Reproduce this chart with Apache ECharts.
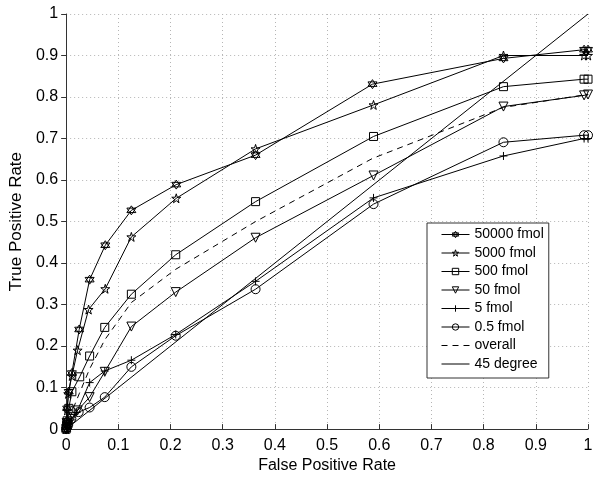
<!DOCTYPE html>
<html>
<head>
<meta charset="utf-8">
<script src="https://cdn.jsdelivr.net/npm/echarts@6/dist/echarts.min.js"></script>
<style>
html,body{margin:0;padding:0;background:#fff;}
#chart{width:600px;height:479px;}
</style>
</head>
<body>
<div id="chart"></div>
<script>
// ---- data ----
const seriesNames = ['50000 fmol', '5000 fmol', '500 fmol', '50 fmol', '5 fmol', '0.5 fmol', 'overall', '45 degree'];

const fpr50000 = [0, 0.001, 0.002, 0.005, 0.011, 0.025, 0.045, 0.075, 0.125, 0.211, 0.363, 0.587, 0.838, 0.9925, 1];
const tpr50000 = [0, 0.02, 0.05, 0.09, 0.135, 0.24, 0.36, 0.443, 0.527, 0.589, 0.66, 0.831, 0.893, 0.914, 0.914];

const fpr5000 = [0, 0.001, 0.002, 0.004, 0.011, 0.022, 0.043, 0.075, 0.125, 0.211, 0.363, 0.589, 0.838, 0.9925, 1];
const tpr5000 = [0, 0.02, 0.045, 0.085, 0.128, 0.19, 0.288, 0.338, 0.463, 0.556, 0.675, 0.781, 0.90, 0.90, 0.90];

const fpr500 = [0, 0.001, 0.002, 0.005, 0.011, 0.026, 0.045, 0.074, 0.125, 0.21, 0.363, 0.589, 0.838, 0.9925, 1];
const tpr500 = [0, 0.01, 0.02, 0.05, 0.09, 0.126, 0.176, 0.245, 0.325, 0.42, 0.548, 0.705, 0.825, 0.843, 0.843];

const fpr50 = [0, 0.002, 0.004, 0.01, 0.022, 0.045, 0.074, 0.125, 0.21, 0.363, 0.589, 0.838, 0.9925, 1];
const tpr50 = [0, 0.005, 0.01, 0.025, 0.045, 0.077, 0.138, 0.247, 0.33, 0.461, 0.611, 0.777, 0.804, 0.806];

const fpr5 = [0, 0.002, 0.005, 0.01, 0.02, 0.045, 0.074, 0.125, 0.21, 0.363, 0.589, 0.838, 0.9925, 1];
const tpr5 = [0, 0.005, 0.012, 0.022, 0.04, 0.112, 0.14, 0.166, 0.228, 0.356, 0.557, 0.658, 0.70, 0.70];

const fpr05 = [0, 0.002, 0.004, 0.01, 0.024, 0.045, 0.074, 0.125, 0.21, 0.363, 0.589, 0.838, 0.9925, 1];
const tpr05 = [0, 0.004, 0.01, 0.025, 0.041, 0.052, 0.077, 0.15, 0.225, 0.337, 0.542, 0.691, 0.708, 0.708];

const fprOverall = [0, 0.005, 0.012, 0.025, 0.045, 0.074, 0.125, 0.21, 0.363, 0.587, 0.838, 0.9925, 1];
const tprOverall = [0, 0.02, 0.045, 0.085, 0.145, 0.215, 0.305, 0.385, 0.5, 0.652, 0.775, 0.805, 0.805];

const fprDiag = [0, 1];
const tprDiag = [0, 1];

const xTicks = [0, 0.1, 0.2, 0.3, 0.4, 0.5, 0.6, 0.7, 0.8, 0.9, 1];
const yTicks = [0, 0.1, 0.2, 0.3, 0.4, 0.5, 0.6, 0.7, 0.8, 0.9, 1];

// ---- symbols ----
const SYM_HEXAGRAM = 'path://M50,0 L93.3,75 L6.7,75 Z M50,100 L6.7,25 L93.3,25 Z';
const SYM_PENTAGRAM = 'path://M50,0 L61.23,34.55 L97.55,34.55 L68.17,55.9 L79.39,90.45 L50,69.1 L20.61,90.45 L31.83,55.9 L2.45,34.55 L38.77,34.55 Z';
const SYM_SQUARE = 'path://M0,0 L100,0 L100,100 L0,100 Z';
const SYM_TRIDOWN = 'path://M0,0 L100,0 L50,90 Z';
const SYM_PLUS = 'path://M0,50 L100,50 M50,0 L50,100';
const SYM_CIRCLE = 'circle';

function pairs(xs, ys) { return xs.map((x, i) => [x, ys[i]]); }

function markerSeries(name, xs, ys, symbol, size) {
  return {
    name: name, type: 'line', data: pairs(xs, ys),
    symbol: symbol, symbolSize: size, showAllSymbol: true,
    lineStyle: { color: '#000', width: 1 },
    itemStyle: { color: 'rgba(0,0,0,0)', borderColor: '#000', borderWidth: 1 },
    emphasis: { disabled: true }
  };
}

const FONT = '"Liberation Sans", Arial, sans-serif';

const chart = echarts.init(document.getElementById('chart'), null, { renderer: 'canvas' });
chart.setOption({
  animation: false,
  backgroundColor: '#fff',
  grid: { left: 52, right: 12, top: 14, bottom: 45, containLabel: false },
  xAxis: {
    type: 'value', min: 0, max: 1, interval: 0.1,
    name: 'False Positive Rate', nameLocation: 'middle', nameGap: 23,
    nameTextStyle: { fontFamily: FONT, fontSize: 16, color: '#000' },
    axisLine: { show: true, onZero: false, lineStyle: { color: '#333', width: 1 } },
    axisTick: { show: true, inside: true, length: 5, lineStyle: { color: '#333' } },
    axisLabel: { fontFamily: FONT, fontSize: 16, color: '#000', margin: 8,
      formatter: v => { const t = xTicks.find(k => Math.abs(k - v) < 1e-9); return t === undefined ? '' : String(t); } },
    splitLine: { show: true, lineStyle: { color: '#b5b5b5', type: [1, 3], width: 1 } }
  },
  yAxis: {
    type: 'value', min: 0, max: 1, interval: 0.1,
    name: 'True Positive Rate', nameLocation: 'middle', nameGap: 31,
    nameTextStyle: { fontFamily: FONT, fontSize: 17, color: '#000' },
    axisLine: { show: true, onZero: false, lineStyle: { color: '#333', width: 1 } },
    axisTick: { show: true, inside: false, length: 5, lineStyle: { color: '#333' } },
    axisLabel: { fontFamily: FONT, fontSize: 16, color: '#000', margin: 8,
      formatter: v => { const t = yTicks.find(k => Math.abs(k - v) < 1e-9); return t === undefined ? '' : String(t); } },
    splitLine: { show: true, lineStyle: { color: '#b5b5b5', type: [1, 3], width: 1 } }
  },
  legend: {
    orient: 'vertical', left: 427, top: 223,
    itemWidth: 28, itemHeight: 8, itemGap: 4.5,
    padding: [4.5, 5, 7, 14],
    backgroundColor: '#fff', borderColor: '#333', borderWidth: 1,
    textStyle: { fontFamily: FONT, fontSize: 14, color: '#000' },
    lineStyle: { width: 1 },
    itemStyle: { borderWidth: 1 },
    data: seriesNames
  },
  series: [
    markerSeries(seriesNames[0], fpr50000, tpr50000, SYM_HEXAGRAM, 9),
    markerSeries(seriesNames[1], fpr5000, tpr5000, SYM_PENTAGRAM, 9),
    markerSeries(seriesNames[2], fpr500, tpr500, SYM_SQUARE, 8),
    markerSeries(seriesNames[3], fpr50, tpr50, SYM_TRIDOWN, 9),
    markerSeries(seriesNames[4], fpr5, tpr5, SYM_PLUS, 8),
    markerSeries(seriesNames[5], fpr05, tpr05, SYM_CIRCLE, 9),
    {
      name: seriesNames[6], type: 'line', data: pairs(fprOverall, tprOverall),
      symbol: 'none', lineStyle: { color: '#000', width: 1, type: [6, 5] },
      itemStyle: { color: 'rgba(0,0,0,0)', borderWidth: 0 }, emphasis: { disabled: true }
    },
    {
      name: seriesNames[7], type: 'line', data: pairs(fprDiag, tprDiag),
      symbol: 'none', lineStyle: { color: '#000', width: 1 },
      itemStyle: { color: 'rgba(0,0,0,0)', borderWidth: 0 }, emphasis: { disabled: true }
    }
  ]
});
</script>
</body>
</html>
